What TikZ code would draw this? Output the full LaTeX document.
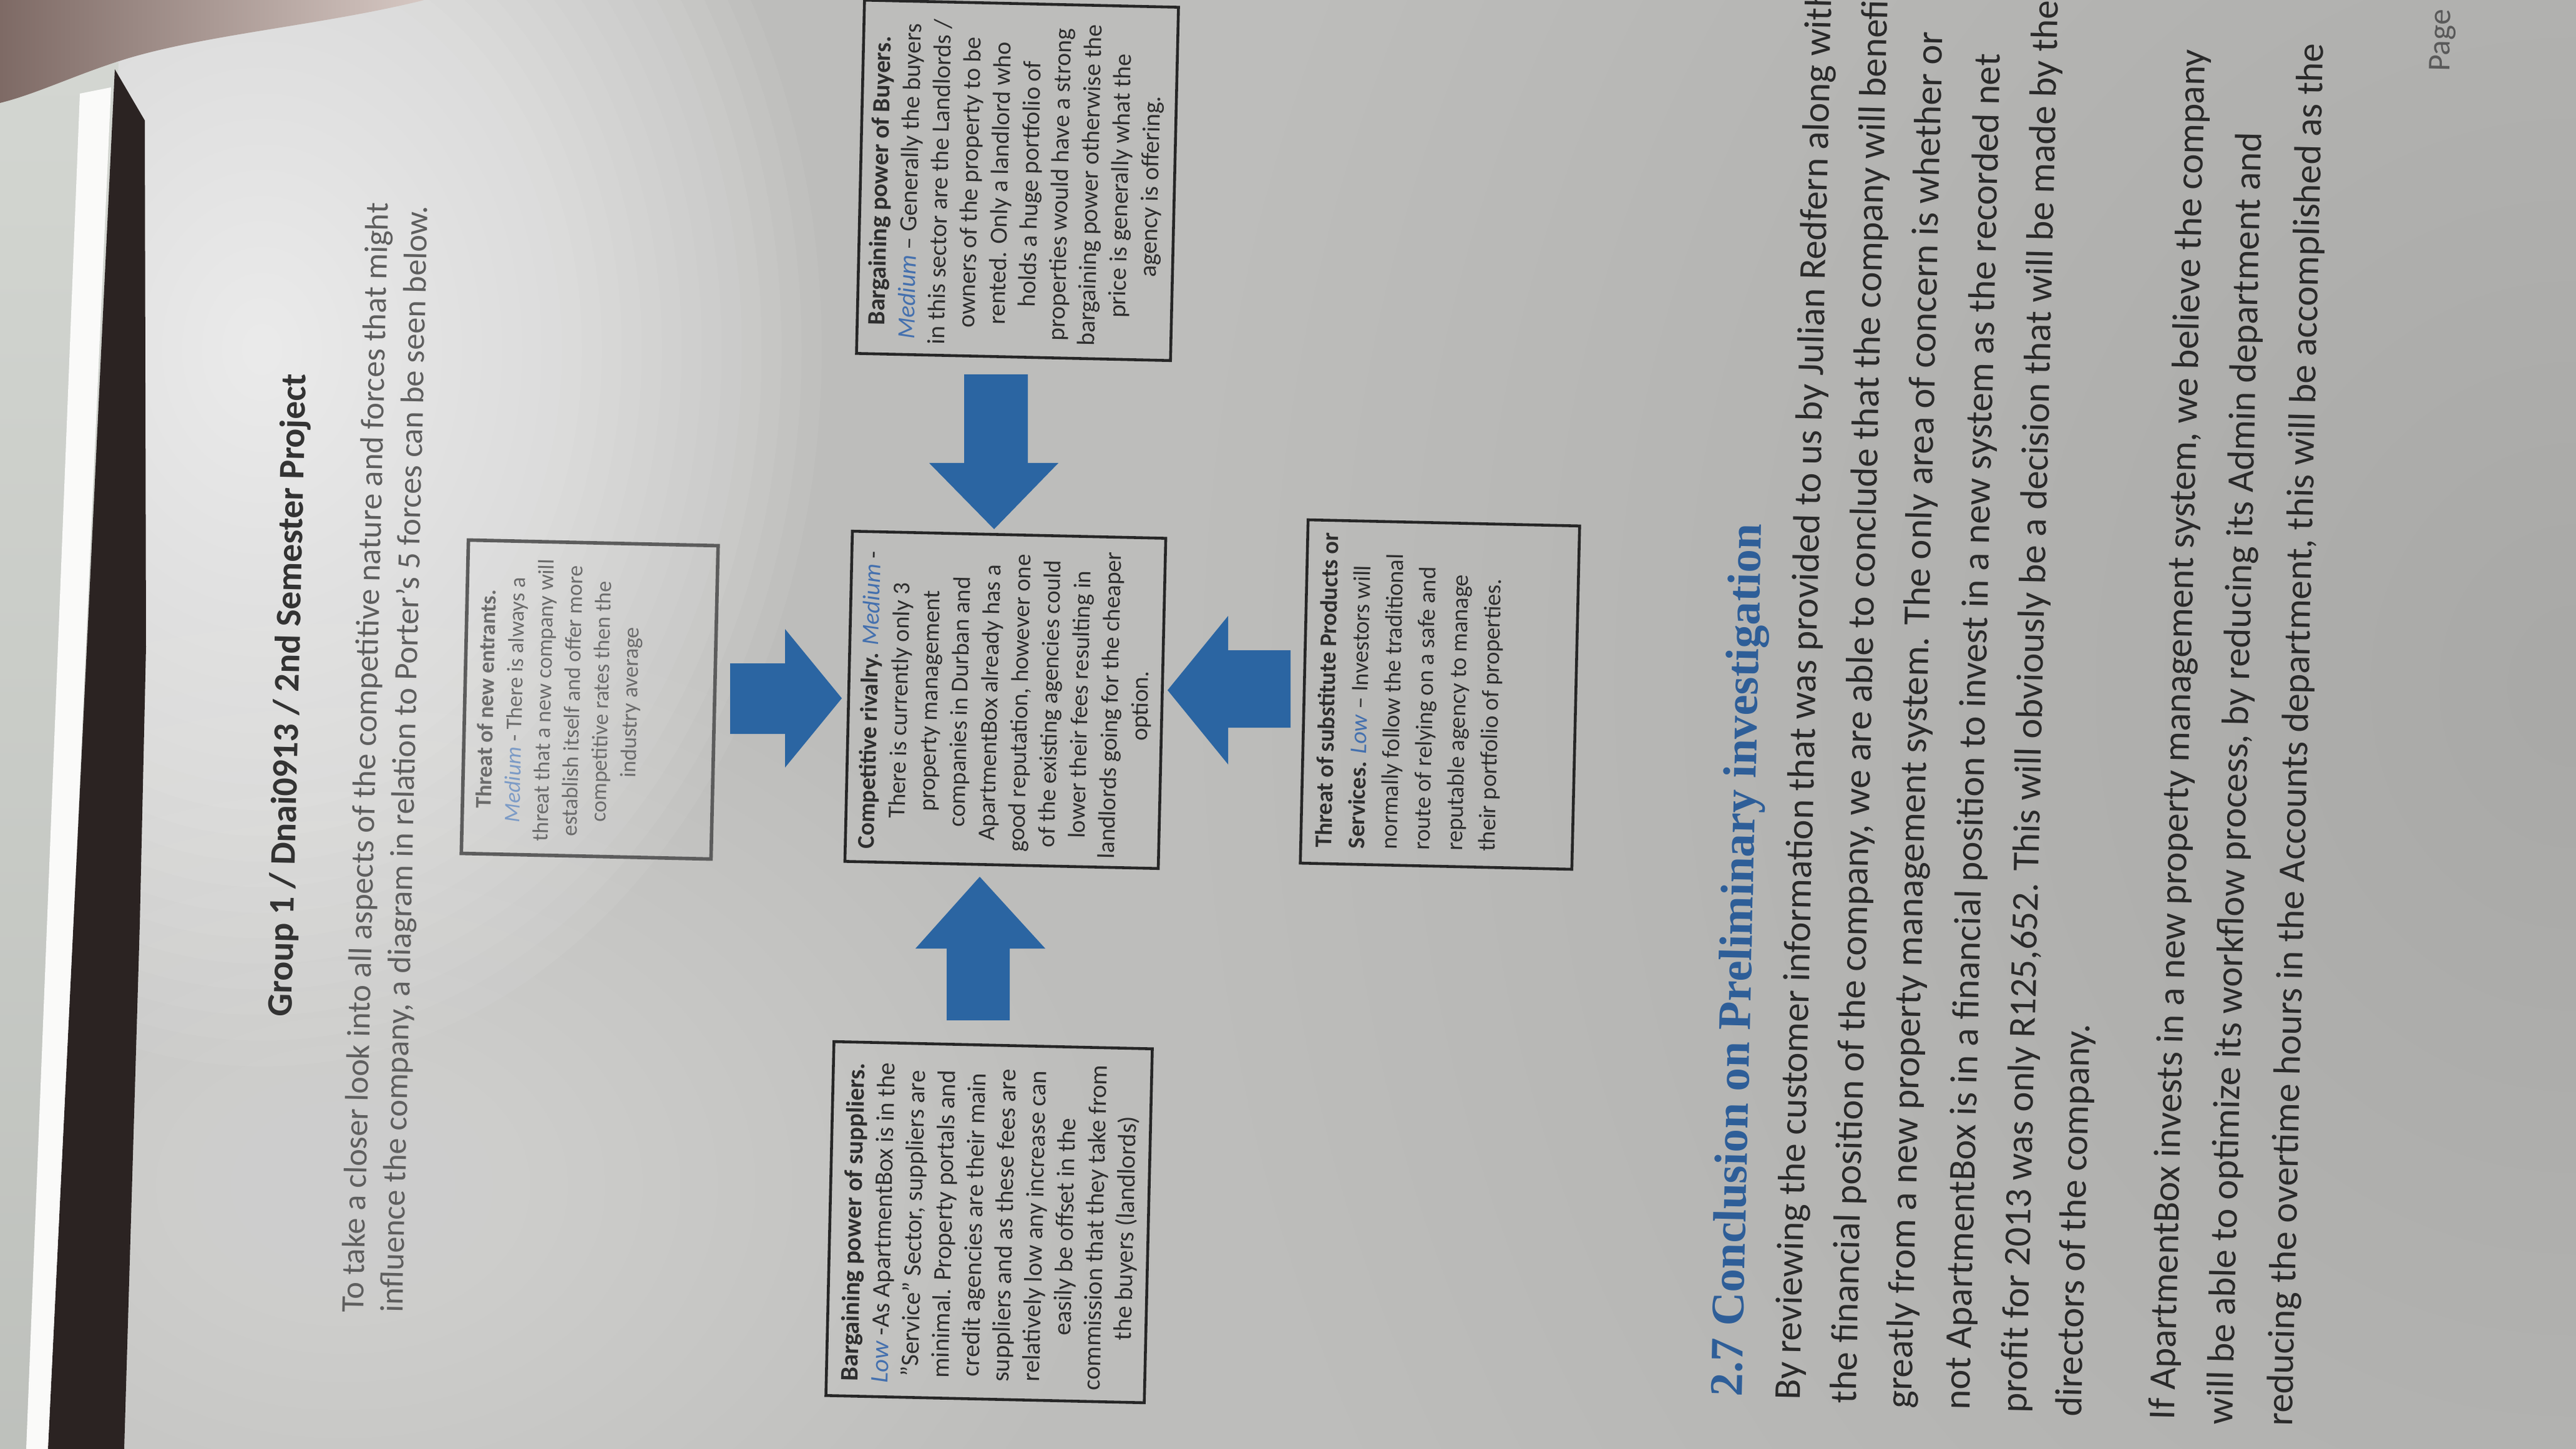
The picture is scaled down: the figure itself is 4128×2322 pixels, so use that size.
\documentclass[tikz,border=0pt]{standalone}
\usepackage{fontspec}
\setmainfont{Carlito}
\newfontfamily\headfont{Liberation Serif}
\usetikzlibrary{calc}
\definecolor{pagegray}{HTML}{BDBDBB}
\definecolor{boxline}{HTML}{262626}
\definecolor{boxtextc}{HTML}{2E2E2E}
\definecolor{arrowblue}{HTML}{2B65A2}
\definecolor{medblue}{HTML}{4470AE}
\definecolor{headblue}{HTML}{2E5E98}
\definecolor{bodytext}{HTML}{2A2A2A}
\definecolor{introgray}{HTML}{5E5E5E}
\definecolor{leftgray}{HTML}{D3D6D1}
\definecolor{bandc}{HTML}{2B2322}
\definecolor{fingerdark}{HTML}{7E6A65}
\definecolor{fingerlight}{HTML}{D6C8C3}
\newcommand{\md}{\textcolor{medblue}{\textit{Medium}}}
\newcommand{\lw}{\textcolor{medblue}{\textit{Low}}}
\begin{document}
\begin{tikzpicture}[x=0.01cm,y=-0.01cm,
  rot/.style={rotate=88.7},
  boxst/.style={rot, draw=boxline, line width=1.3pt, inner sep=0pt},
  boxtxt/.style={rot, inner sep=0pt, text=boxtextc},
  bodyline/.style={rot, inner sep=0pt, anchor=base west, text=bodytext, font=\fontsize{17.3}{20}\selectfont},
  arrowst/.style={fill=arrowblue, draw=none}]
\useasboundingbox (0,0) rectangle (4128,2322);
\begin{scope}
\clip (0,0) rectangle (4128,2322);
% page background with soft light and shade
\fill[pagegray] (0,0) rectangle (4128,2322);
\foreach \i in {1,...,20} {
  \fill[black, opacity=0.005] (4128,1100) ellipse ({1.1cm*\i} and {1.3cm*\i});
}
\foreach \i in {1,...,20} {
  \fill[white, opacity=0.018] (550,1900) ellipse ({0.6cm*\i} and {0.45cm*\i});
}
\foreach \i in {1,...,28} {
  \fill[white, opacity=0.055] (420,560) ellipse ({0.32cm*\i} and {0.41cm*\i});
}
% left side outside the page
\shade[top color=leftgray, bottom color=leftgray!90!black] (0,100) -- (190,100) -- (80,2322) -- (0,2322) -- cycle;
\fill[white!88!leftgray] (128,150) -- (178,140) -- (80,2322) -- (42,2322) -- cycle;
\fill[bandc] (184,111) -- (232,193) -- (234,1037) -- (224,1481) -- (199,2322) -- (77,2322) -- cycle;
% finger at the top left
\shade[left color=fingerdark, right color=fingerlight]
  (0,0) -- (680,0) .. controls (520,40) and (330,55) .. (200,95) .. controls (120,120) and (60,150) .. (0,165) -- cycle;

% header and intro
\node[rot, inner sep=0pt, anchor=base west, text={black!80}, font=\fontsize{16.4}{20}\selectfont\bfseries] (hdr) at (467,1630) {Group 1 / Dnai0913 / 2nd Semester Project};
\node[rot, inner sep=0pt, anchor=base west, text=introgray, font=\fontsize{14.9}{18}\selectfont] (intro1) at (582,2104) {To take a closer look into all aspects of the competitive nature and forces that might};
\node[rot, inner sep=0pt, anchor=base west, text=introgray, font=\fontsize{14.9}{18}\selectfont] (intro2) at (645,2104) {influence the company, a diagram in relation to Porter's 5 forces can be seen below.};

% boxes
\node[boxst, draw=boxline!75!white, line width=1.6pt, minimum width=5.02cm, minimum height=4.00cm] (entbox) at (945,1121) {};
\node[boxst, minimum width=5.29cm, minimum height=5.02cm] (rivbox) at (1611,1121.5) {};
\node[boxst, minimum width=5.50cm, minimum height=4.35cm] (subbox) at (2307.5,1113) {};
\node[boxst, minimum width=5.67cm, minimum height=5.10cm] (supbox) at (1585,1958.5) {};
\node[boxst, minimum width=5.66cm, minimum height=5.03cm] (buybox) at (1630.5,289) {};

% box texts
\node[boxtxt, text=black!58, anchor=north, align=center, font=\fontsize{10.2}{13.1}\selectfont] (enttxt) at (765,1120)
 {\textbf{Threat of new entrants.}\\
  \textcolor{medblue!70!white}{\textit{Medium}} - There is always a\\
  threat that a new company will\\
  establish itself and offer more\\
  competitive rates then the\\
  industry average};
\node[boxtxt, anchor=north, align=center, font=\fontsize{11}{13.7}\selectfont] (rivtxt) at (1378,1121)
 {\textbf{Competitive rivalry.} \md\ -\\
  There is currently only 3\\
  property management\\
  companies in Durban and\\
  ApartmentBox already has a\\
  good reputation, however one\\
  of the existing agencies could\\
  lower their fees resulting in\\
  landlords going for the cheaper\\
  option.};
\node[boxtxt, anchor=north west, align=left, font=\fontsize{10.9}{14.9}\selectfont] (subtxt) at (2106,1359)
 {\textbf{Threat of substitute Products or}\\
  \textbf{Services.} \lw\ – Investors will\\
  normally follow the traditional\\
  route of relying on a safe and\\
  reputable agency to manage\\
  their portfolio of properties.};
\node[boxtxt, anchor=north, align=center, font=\fontsize{11.5}{13.8}\selectfont] (suptxt) at (1351,1958)
 {\textbf{Bargaining power of suppliers.}\\
  \lw\ -As ApartmentBox is in the\\
  "Service" Sector, suppliers are\\
  minimal. Property portals and\\
  credit agencies are their main\\
  suppliers and as these fees are\\
  relatively low any increase can\\
  easily be offset in the\\
  commission that they take from\\
  the buyers (landlords)};
\node[boxtxt, anchor=north, align=center, font=\fontsize{11.3}{13.7}\selectfont] (buytxt) at (1394,289)
 {\textbf{Bargaining power of Buyers.}\\
  \md\ – Generally the buyers\\
  in this sector are the Landlords /\\
  owners of the property to be\\
  rented. Only a landlord who\\
  holds a huge portfolio of\\
  properties would have a strong\\
  bargaining power otherwise the\\
  price is generally what the\\
  agency is offering.};

% block arrows towards the rivalry box
\fill[arrowst] (1170,1063) -- (1258,1063) -- (1258,1008) -- (1349,1119) -- (1258,1230) -- (1258,1176) -- (1170,1176) -- cycle;
\fill[arrowst] (1545,600) -- (1647,600) -- (1647,742) -- (1696,742) -- (1593,848) -- (1489,742) -- (1545,742) -- cycle;
\fill[arrowst] (2068,1042) -- (1968,1042) -- (1968,987) -- (1871,1106) -- (1968,1225) -- (1968,1166) -- (2068,1166) -- cycle;
\fill[arrowst] (1517,1635) -- (1517,1520) -- (1467,1520) -- (1570,1405) -- (1675,1520) -- (1618,1520) -- (1618,1635) -- cycle;

% heading and body
\node[rot, inner sep=0pt, anchor=base west, text=headblue, font=\headfont\fontsize{21.3}{26}\selectfont\bfseries] (head) at (2791,2239) {2.7 Conclusion on Preliminary investigation};
\node[bodyline] (b1) at (2884,2244) {By reviewing the customer information that was provided to us by Julian Redfern along with};
\node[bodyline] (b2) at (2974,2250) {the financial position of the company, we are able to conclude that the company will benefit};
\node[bodyline] (b3) at (3063,2258) {greatly from a new property management system. The only area of concern is whether or};
\node[bodyline] (b4) at (3156,2260) {not ApartmentBox is in a financial position to invest in a new system as the recorded net};
\node[bodyline] (b5) at (3247,2265) {profit for 2013 was only R125,652. This will obviously be a decision that will be made by the};
\node[bodyline] (b6) at (3335,2271) {directors of the company.};
\node[bodyline] (c1) at (3484,2276) {If ApartmentBox invests in a new property management system, we believe the company};
\node[bodyline] (c2) at (3577,2284) {will be able to optimize its workflow process, by reducing its Admin department and};
\node[bodyline] (c3) at (3673,2286) {reducing the overtime hours in the Accounts department, this will be accomplished as the};
\node[rot, inner sep=0pt, anchor=base west, text=black!65, font=\fontsize{14.5}{18}\selectfont] (pg) at (3925,115) {Page};
\end{scope}
\end{tikzpicture}
\end{document}
